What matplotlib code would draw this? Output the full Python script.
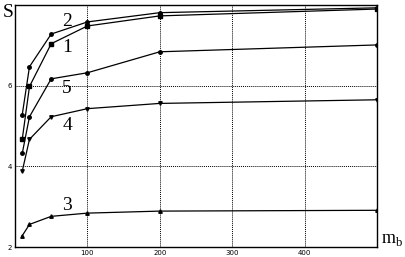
import matplotlib
matplotlib.use("Agg")
import matplotlib.pyplot as plt

mb = [10, 20, 50, 100, 200, 500]
s1 = [4.67, 5.98, 7.04, 7.48, 7.73, 7.90]
s2 = [5.28, 6.47, 7.28, 7.58, 7.81, 7.93]
s3 = [2.28, 2.56, 2.76, 2.84, 2.89, 2.91]
s4 = [3.88, 4.67, 5.23, 5.43, 5.56, 5.65]
s5 = [4.32, 5.23, 6.17, 6.32, 6.84, 7.01]
curve_labels = ["1", "2", "3", "4", "5"]
label_pos = [(72, 6.94), (72, 7.60), (72, 3.04), (72, 5.01), (72, 5.93)]
xticks = [100, 200, 300, 400]
yticks = [2, 4, 6]

fig = plt.figure(figsize=(4.05, 2.57), dpi=100)
ax = fig.add_axes([15/405, 10/257, (377-15)/405, (247-5)/257])

series = [s1, s2, s3, s4, s5]
markers = ["s", "o", "^", "v", "o"]
for s, m in zip(series, markers):
    ax.plot(mb, s, color="black", lw=0.9, marker=m, ms=2.5, mfc="black", mec="black")

for lab, (x, y) in zip(curve_labels, label_pos):
    ax.text(x, y, lab, fontsize=14, family="Liberation Serif", ha="center", va="center")

ax.set_xlim(0, 500)
ax.set_ylim(2, 8)
ax.set_xticks(xticks)
ax.set_yticks(yticks)
ax.set_xticklabels([str(v) for v in xticks], fontsize=5)
ax.set_yticklabels([str(v) for v in yticks], fontsize=5)
ax.tick_params(length=0, pad=2)
ax.grid(True, color="black", ls=(0, (1, 1)), lw=0.7)
for sp in ax.spines.values():
    sp.set_linewidth(1.0)

fig.text(8/405, 1 - 12/257, "S", fontsize=14, family="Liberation Serif", ha="center", va="center")
fig.text(392/405, 1 - 240/257, r"m$_\mathregular{b}$", fontsize=13, family="Liberation Serif", ha="center", va="center")

fig.savefig("out.png", dpi=100)
